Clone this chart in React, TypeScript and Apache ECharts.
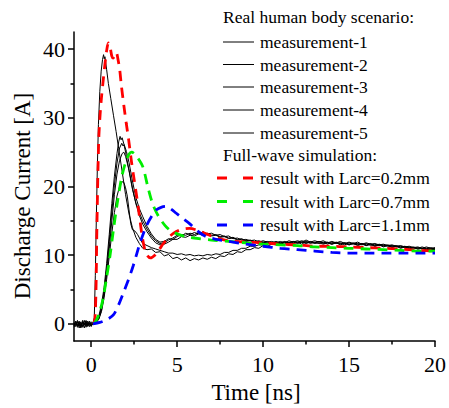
import React, { useEffect, useRef } from "react";
import * as echarts from "echarts";

const FONT = "Liberation Serif, DejaVu Serif, serif";

// Tick values
const X_MAJOR = [0, 5, 10, 15, 20];
const X_MINOR = [2.5, 7.5, 12.5, 17.5];
const Y_MAJOR = [0, 10, 20, 30, 40];
const Y_MINOR = [5, 15, 25, 35];

// Shared time grids for the measurements
const TIME_PRE = [-1, -0.9, -0.8, -0.7, -0.6, -0.5, -0.4, -0.3, -0.2, -0.1, 0.0, 0.1];
const TIME_TAIL = [
  3, 3.25, 3.5, 3.75, 4, 4.25, 4.5, 4.75, 5, 5.25, 5.5, 5.75, 6, 6.25, 6.5, 6.75, 7, 7.25, 7.5, 7.75,
  8, 8.25, 8.5, 8.75, 9, 9.25, 9.5, 9.75, 10, 10.25, 10.5, 10.75, 11, 11.25, 11.5, 11.75, 12, 12.25,
  12.5, 12.75, 13, 13.25, 13.5, 13.75, 14, 14.25, 14.5, 14.75, 15, 15.25, 15.5, 15.75, 16, 16.25,
  16.5, 16.75, 17, 17.25, 17.5, 17.75, 18, 18.25, 18.5, 18.75, 19, 19.25, 19.5, 19.75, 20,
];

// Measurement 1 (fast pulse, ~39 A)
const M1_PRE = [-0.3, 0.4, -0.5, 0.2, -0.6, 0.5, -0.2, 0.3, -0.4, 0.2, -0.3, 0.1];
const M1_RISE = [
  [0.18, 0.9], [0.24, 7], [0.3, 15.5], [0.36, 23], [0.42, 29], [0.5, 33.8], [0.58, 36.8], [0.66, 38.5],
  [0.72, 39.2], [0.76, 38.6], [0.8, 38.9], [0.9, 37], [1.0, 35], [1.14, 32.8], [1.3, 30.3], [1.45, 28],
  [1.6, 25.5], [1.8, 22.2], [2.0, 18.8], [2.2, 16], [2.4, 14], [2.6, 12.6], [2.8, 11.7],
];
const M1_TAIL = [
  11.0, 10.8, 10.9, 10.4, 10.5, 9.9, 10.1, 9.5, 9.7, 9.3, 9.6, 9.2, 9.5, 9.3, 9.6, 9.4, 9.7, 9.5, 9.9, 9.8,
  10.2, 10.1, 10.5, 10.4, 10.8, 10.8, 11.1, 11.0, 11.4, 11.3, 11.6, 11.5, 11.8, 11.6, 11.9, 11.7, 11.9, 11.6,
  12.0, 11.7, 11.9, 11.7, 11.9, 11.6, 11.9, 11.7, 11.8, 11.5, 11.8, 11.6, 11.7, 11.5, 11.7, 11.4, 11.6, 11.4,
  11.5, 11.3, 11.4, 11.2, 11.3, 11.1, 11.2, 11.0, 11.1, 10.9, 11.0, 10.9, 11.0,
];

// Measurement 2
const M2_PRE = [0.2, -0.4, 0.3, -0.6, 0.1, -0.3, 0.5, -0.5, 0.2, -0.2, 0.3, 0.0];
const M2_RISE = [
  [0.3, 0.4], [0.45, 1.2], [0.6, 2.8], [0.75, 5.3], [0.9, 8.8], [1.05, 13], [1.2, 17.5], [1.35, 21.5],
  [1.5, 24.8], [1.6, 26.5], [1.68, 27.3], [1.74, 26.8], [1.8, 27.1], [1.9, 26.2], [2.0, 25], [2.2, 22.3],
  [2.4, 19.6], [2.6, 17.6], [2.8, 16.2],
];
const M2_TAIL = [
  15.0, 13.8, 12.8, 12.1, 11.7, 11.8, 12.2, 12.5, 12.9, 12.8, 13.2, 13.0, 13.3, 13.1, 13.4, 13.1, 13.2, 12.9,
  13.0, 12.7, 12.8, 12.4, 12.5, 12.2, 12.3, 12.1, 12.2, 11.9, 12.1, 11.9, 12.0, 11.8, 12.0, 11.8, 12.1, 11.9,
  12.1, 11.9, 12.2, 11.9, 12.1, 11.9, 12.1, 11.8, 12.0, 11.8, 12.0, 11.7, 11.9, 11.7, 11.9, 11.6, 11.8, 11.6,
  11.7, 11.5, 11.6, 11.4, 11.5, 11.3, 11.4, 11.2, 11.3, 11.1, 11.2, 11.0, 11.2, 11.0, 11.1,
];

// Measurement 3
const M3_PRE = [-0.5, 0.1, -0.2, 0.4, -0.4, 0.2, -0.6, 0.3, -0.1, 0.4, -0.2, 0.2];
const M3_RISE = [
  [0.3, 0.2], [0.45, 0.9], [0.6, 2.4], [0.75, 4.8], [0.9, 8], [1.05, 12], [1.2, 16.3], [1.35, 20.2],
  [1.5, 23.4], [1.65, 25.6], [1.78, 26.3], [1.85, 25.9], [1.92, 26.1], [2.05, 25.1], [2.2, 23.5],
  [2.4, 20.8], [2.6, 18.4], [2.8, 16.8],
];
const M3_TAIL = [
  15.6, 14.2, 13.1, 12.3, 11.9, 12.0, 12.4, 12.3, 12.7, 13.0, 12.9, 13.2, 13.0, 13.3, 13.0, 13.2, 12.9, 13.0,
  12.7, 12.8, 12.5, 12.6, 12.3, 12.4, 12.1, 12.2, 12.0, 12.1, 11.9, 12.0, 11.8, 12.0, 11.8, 12.0, 11.8, 12.0,
  11.9, 12.1, 11.9, 12.0, 11.8, 12.0, 11.8, 11.9, 11.7, 11.9, 11.7, 11.8, 11.6, 11.8, 11.6, 11.7, 11.5, 11.7,
  11.4, 11.6, 11.4, 11.5, 11.3, 11.4, 11.2, 11.3, 11.1, 11.2, 11.0, 11.2, 11.0, 11.1, 10.9,
];

// Measurement 4
const M4_PRE = [0.1, -0.2, 0.5, -0.3, 0.3, -0.5, 0.1, -0.3, 0.4, -0.4, 0.1, -0.1];
const M4_RISE = [
  [0.3, 0.3], [0.45, 0.8], [0.6, 2.0], [0.75, 4.2], [0.9, 7.2], [1.05, 11], [1.2, 15], [1.35, 18.8],
  [1.5, 21.8], [1.65, 23.8], [1.8, 24.8], [1.9, 25.0], [2.0, 24.4], [2.2, 22.4], [2.4, 19.8],
  [2.6, 17.5], [2.8, 15.8],
];
const M4_TAIL = [
  14.5, 13.4, 12.5, 11.8, 11.5, 11.6, 11.9, 12.3, 12.3, 12.7, 12.6, 12.9, 12.8, 13.1, 12.9, 13.0, 12.8, 12.9,
  12.6, 12.7, 12.4, 12.5, 12.2, 12.3, 12.0, 12.1, 11.9, 12.0, 11.8, 11.9, 11.7, 11.9, 11.7, 11.9, 11.6, 11.9,
  11.7, 11.9, 11.8, 11.9, 11.7, 11.8, 11.6, 11.8, 11.6, 11.8, 11.5, 11.7, 11.5, 11.7, 11.4, 11.6, 11.4, 11.6,
  11.3, 11.5, 11.2, 11.4, 11.1, 11.3, 11.0, 11.2, 10.9, 11.1, 10.9, 11.0, 10.8, 10.9, 10.8,
];

// Measurement 5 (lowest peak, ~21 A)
const M5_PRE = [-0.2, 0.3, -0.3, 0.1, -0.5, 0.3, -0.1, 0.5, -0.3, 0.1, -0.4, 0.2];
const M5_RISE = [
  [0.3, 0.2], [0.45, 0.7], [0.6, 1.8], [0.75, 3.8], [0.9, 6.5], [1.05, 9.8], [1.2, 13.2], [1.35, 16.2],
  [1.5, 18.6], [1.65, 20.0], [1.8, 20.7], [1.9, 20.6], [2.0, 19.8], [2.1, 18.6], [2.2, 16.6], [2.3, 14.6],
  [2.4, 13.7], [2.55, 13.5], [2.7, 13.0], [2.85, 12.3],
];
const M5_TAIL = [
  11.7, 11.4, 11.1, 10.9, 10.7, 10.5, 10.3, 10.3, 10.1, 10.2, 10.0, 10.1, 9.9, 10.0, 9.9, 10.1, 10.0, 10.2,
  10.1, 10.4, 10.4, 10.7, 10.7, 11.0, 11.0, 11.3, 11.3, 11.5, 11.5, 11.7, 11.6, 11.8, 11.7, 11.9, 11.8, 12.0,
  11.8, 11.9, 11.7, 11.9, 11.8, 12.0, 11.7, 11.8, 11.6, 11.8, 11.6, 11.8, 11.5, 11.7, 11.5, 11.7, 11.4, 11.6,
  11.3, 11.5, 11.3, 11.4, 11.2, 11.3, 11.1, 11.2, 11.0, 11.1, 10.9, 11.0, 10.8, 10.9, 10.8,
];

// Full-wave simulations
const SIM_02 = [
  [0.15, 0], [0.22, 0.8], [0.28, 5], [0.32, 12], [0.36, 18], [0.4, 23], [0.45, 27.5], [0.52, 30.5],
  [0.6, 33], [0.7, 35.5], [0.8, 37.8], [0.9, 39.8], [1.0, 40.9], [1.1, 40.3], [1.2, 39], [1.28, 38.7],
  [1.38, 39.3], [1.46, 39.5], [1.56, 38.5], [1.66, 37], [1.75, 34.8], [1.9, 31.8], [2.04, 29.2],
  [2.18, 26.8], [2.35, 23.5], [2.5, 21], [2.65, 18.5], [2.8, 15.8], [2.95, 13], [3.1, 11], [3.25, 10],
  [3.45, 9.6], [3.7, 10.0], [3.95, 10.8], [4.2, 11.7], [4.47, 12.5], [4.8, 13.2], [5.2, 13.7],
  [5.72, 13.9], [6.2, 13.6], [6.7, 13.1], [7.3, 12.5], [8, 12.1], [9, 11.9], [10, 11.8], [11, 11.6],
  [12, 11.5], [13, 11.3], [14, 11.3], [15, 11.2], [16, 11.1], [17, 11.0], [18, 10.9], [19, 10.7], [20, 10.6],
];
const SIM_07 = [
  [0.15, 0], [0.3, 0.5], [0.5, 1.8], [0.7, 3.8], [0.9, 6.8], [1.1, 10], [1.3, 13.8], [1.5, 17.3],
  [1.77, 21.3], [2.0, 23.5], [2.2, 24.7], [2.35, 25], [2.5, 24.8], [2.7, 24.2], [3.0, 22.9], [3.31, 19.8],
  [3.6, 17.3], [3.93, 15.6], [4.3, 14.3], [4.6, 13.6], [5.0, 13.1], [5.5, 12.7], [6.0, 12.5], [7, 12.2],
  [8, 12], [9, 11.8], [10, 11.6], [11, 11.5], [12, 11.4], [13, 11.2], [14, 11.1], [15, 11.0], [16, 10.9],
  [17, 10.8], [18, 10.7], [19, 10.6], [20, 10.6],
];
const SIM_11 = [
  [0.1, 0], [0.5, 0.2], [0.9, 0.6], [1.29, 1.3], [1.6, 2.8], [1.87, 4.5], [2.15, 6.3], [2.45, 8.5],
  [2.65, 10.2], [2.83, 11.7], [3.0, 12.9], [3.22, 14.3], [3.5, 15.6], [3.8, 16.6], [4.1, 17.0],
  [4.37, 17.1], [4.6, 16.8], [4.95, 16.1], [5.3, 15.4], [5.72, 14.6], [6.2, 13.5], [6.68, 12.7],
  [7.3, 12.3], [8.0, 12.0], [9, 11.6], [10, 11.3], [11, 11.0], [12, 10.8], [13, 10.6], [14, 10.4],
  [15, 10.3], [16, 10.3], [17, 10.3], [18, 10.3], [19, 10.3], [20, 10.3],
];

const MEAS_NAMES = ["measurement-1", "measurement-2", "measurement-3", "measurement-4", "measurement-5"];
const SIM_NAMES = ["result with Larc=0.2mm", "result with Larc=0.7mm", "result with Larc=1.1mm"];
const SIM_COLORS = ["#ff0000", "#00ee00", "#0000ff"];

function buildMeasurement(pre: number[], rise: number[][], tail: number[]) {
  return [
    ...TIME_PRE.map((t, i) => [t, pre[i]]),
    ...rise,
    ...TIME_TAIL.map((t, i) => [t, tail[i]]),
  ];
}

function txt(text: string, x: number, y: number, size: number) {
  return {
    type: "text",
    x,
    y,
    style: {
      text,
      fontFamily: FONT,
      fontSize: size,
      fill: "#000",
      textVerticalAlign: "middle",
    },
  };
}

export default function App() {
  const ref = useRef<HTMLDivElement>(null);

  useEffect(() => {
    if (!ref.current) return;
    const chart = echarts.init(ref.current, undefined, { renderer: "svg" });

    const measurements = [
      buildMeasurement(M1_PRE, M1_RISE, M1_TAIL),
      buildMeasurement(M2_PRE, M2_RISE, M2_TAIL),
      buildMeasurement(M3_PRE, M3_RISE, M3_TAIL),
      buildMeasurement(M4_PRE, M4_RISE, M4_TAIL),
      buildMeasurement(M5_PRE, M5_RISE, M5_TAIL),
    ];
    const sims = [SIM_02, SIM_07, SIM_11];

    const axisLineStyle = { color: "#000", width: 1.5 };
    const labelStyle = { fontSize: 22, fontFamily: FONT, color: "#000" };

    const legendX = 223;
    const textX = 260;
    const LEG_FS = 17.5;
    const rowsY = [42, 64.5, 87, 110, 133];
    const simRowsY = [178, 201.5, 225];
    const graphics: any[] = [
      txt("Real human body scenario:", legendX, 17, LEG_FS),
      txt("Full-wave simulation:", legendX, 155, LEG_FS),
      {
        type: "text",
        x: 22,
        y: 196,
        rotation: Math.PI / 2,
        style: {
          text: "Discharge Current [A]",
          fontFamily: FONT,
          fontSize: 23,
          fill: "#000",
          textAlign: "center",
          textVerticalAlign: "middle",
        },
      },
      {
        type: "text",
        x: 256,
        y: 392,
        style: {
          text: "Time [ns]",
          fontFamily: FONT,
          fontSize: 23,
          fill: "#000",
          textAlign: "center",
          textVerticalAlign: "middle",
        },
      },
    ];
    MEAS_NAMES.forEach((name, i) => {
      graphics.push({
        type: "line",
        shape: { x1: 223, y1: rowsY[i], x2: 254, y2: rowsY[i] },
        style: { stroke: "#000", lineWidth: 1 },
      });
      graphics.push(txt(name, textX, rowsY[i], LEG_FS));
    });
    SIM_NAMES.forEach((name, i) => {
      graphics.push({
        type: "line",
        shape: { x1: 217, y1: simRowsY[i], x2: 227, y2: simRowsY[i] },
        style: { stroke: SIM_COLORS[i], lineWidth: 3 },
      });
      graphics.push({
        type: "line",
        shape: { x1: 243, y1: simRowsY[i], x2: 253, y2: simRowsY[i] },
        style: { stroke: SIM_COLORS[i], lineWidth: 3 },
      });
      graphics.push(txt(name, textX, simRowsY[i], LEG_FS));
    });

    const option: any = {
      animation: false,
      backgroundColor: "#fff",
      textStyle: { fontFamily: FONT },
      grid: { left: 74, right: 12, top: 32, bottom: 67, containLabel: false },
      xAxis: [
        {
          type: "value",
          min: -1,
          max: 20,
          axisLine: { show: true, onZero: false, lineStyle: axisLineStyle },
          axisTick: { show: true, customValues: X_MAJOR, length: 6, lineStyle: axisLineStyle },
          axisLabel: { customValues: X_MAJOR, margin: 12, ...labelStyle },
          splitLine: { show: false },
        },
        {
          type: "value",
          min: -1,
          max: 20,
          position: "bottom",
          axisLine: { show: false, onZero: false },
          axisTick: { show: true, customValues: X_MINOR, length: 3.5, lineStyle: axisLineStyle },
          axisLabel: { show: false },
          splitLine: { show: false },
        },
      ],
      yAxis: [
        {
          type: "value",
          min: -2.5,
          max: 42.5,
          axisLine: { show: true, onZero: false, lineStyle: axisLineStyle },
          axisTick: { show: true, customValues: Y_MAJOR, length: 6, lineStyle: axisLineStyle },
          axisLabel: { customValues: Y_MAJOR, margin: 9, ...labelStyle },
          splitLine: { show: false },
        },
        {
          type: "value",
          min: -2.5,
          max: 42.5,
          position: "left",
          axisLine: { show: false, onZero: false },
          axisTick: { show: true, customValues: Y_MINOR, length: 3.5, lineStyle: axisLineStyle },
          axisLabel: { show: false },
          splitLine: { show: false },
        },
      ],
      series: [
        ...measurements.map((d, i) => ({
          name: MEAS_NAMES[i],
          type: "line",
          data: d,
          showSymbol: false,
          symbol: "none",
          lineStyle: { color: "#000", width: 1 },
          z: 2,
        })),
        ...sims.map((d, i) => ({
          name: SIM_NAMES[i],
          type: "line",
          data: d,
          showSymbol: false,
          symbol: "none",
          smooth: 0.3,
          lineStyle: { color: SIM_COLORS[i], width: 2.8, type: [10, 7], cap: "butt" },
          z: 3,
        })),
      ],
      graphic: graphics,
    };

    chart.setOption(option);
    return () => chart.dispose();
  }, []);

  return <div ref={ref} style={{ width: 449, height: 408, position: "absolute", left: 0, top: 0 }} />;
}
